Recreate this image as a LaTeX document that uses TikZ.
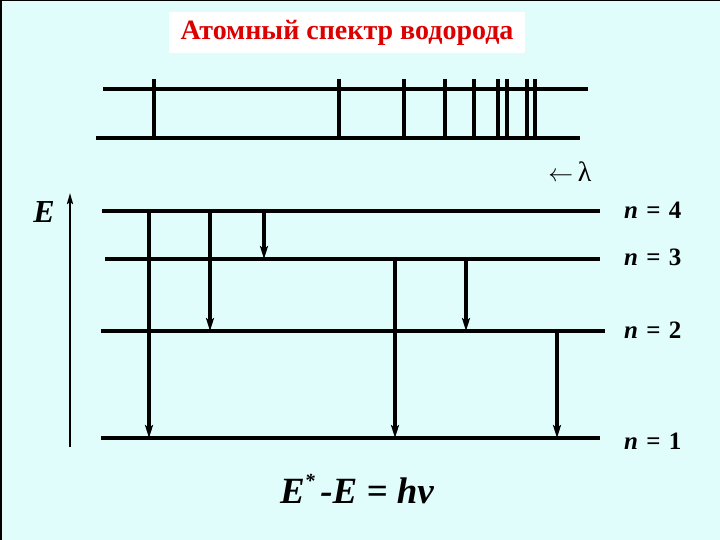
\documentclass[tikz,border=0pt]{standalone}
\usepackage{fontspec}
\setmainfont{Liberation Serif}
\usetikzlibrary{arrows.meta}
\definecolor{bgcyan}{RGB}{224,252,251}
\definecolor{titlered}{RGB}{220,0,0}
\tikzset{
  lvl/.style={line width=3.2pt},
  spec/.style={line width=3.3pt},
  trans/.style={line width=3.2pt,-{Stealth[length=13pt,width=8pt,inset=3pt]}},
  nlab/.style={font=\fontsize{25}{25}\selectfont\bfseries, anchor=west, inner sep=0pt},
}
\newcommand{\nlevel}[1]{\textit{n}\hspace{0.33em}=\hspace{0.33em}#1}
\begin{document}
\begin{tikzpicture}[x=1pt,y=-1pt]
\fill[bgcyan] (0,0) rectangle (720,540);
\useasboundingbox (0,0) rectangle (720,540);
\draw[line width=2pt] (0,0) -- (720,0);
\draw[line width=3pt] (0,0) -- (0,540);
% title
\node[fill=white, minimum width=356, minimum height=41, inner sep=0pt,
      text=titlered, font=\fontsize{28}{28}\selectfont\bfseries] (title) at (347,33) {Атомный спектр водорода};
% spectrum
\coordinate (s1a) at (103,89); \coordinate (s1b) at (588,89);
\coordinate (s2a) at (96,138); \coordinate (s2b) at (580,138);
\draw[spec] (s1a) -- (s1b);
\draw[spec] (s2a) -- (s2b);
\foreach \x in {154,339,404,445,474,498,507,527,535}{
  \draw[spec] (\x,79) -- (\x,138);
}
\node[inner sep=0pt, font=\fontsize{28}{28}\selectfont] (lam) at (570,172) {{\fontsize{23}{23}\selectfont$\leftarrow$}\,λ};
% energy axis
\coordinate (ea) at (70,447); \coordinate (eb) at (70,193);
\draw[line width=2.3pt,-{Stealth[length=11pt,width=6pt,inset=2pt]}] (ea) -- (eb);
\node[font=\fontsize{32}{32}\selectfont\bfseries\itshape, inner sep=0pt] (E) at (44,212) {E};
% levels
\coordinate (l4a) at (102,211); \coordinate (l4b) at (600,211);
\coordinate (l3a) at (105,259); \coordinate (l3b) at (600,259);
\coordinate (l2a) at (101,331); \coordinate (l2b) at (605,331);
\coordinate (l1a) at (101,438); \coordinate (l1b) at (600,438);
\draw[lvl] (l4a) -- (l4b);
\draw[lvl] (l3a) -- (l3b);
\draw[lvl] (l2a) -- (l2b);
\draw[lvl] (l1a) -- (l1b);
\node[nlab] (n4) at (624,210) {\nlevel{4}};
\node[nlab] (n3) at (624,257) {\nlevel{3}};
\node[nlab] (n2) at (624,330) {\nlevel{2}};
\node[nlab] (n1) at (624,441) {\nlevel{1}};
% transitions
\foreach \x/\ya/\yb in {149/211/438, 210/211/331, 264/211/259, 395/259/438, 466/259/331, 557/331/438}{
  \coordinate (ta) at (\x,\ya); \coordinate (tb) at (\x,\yb);
  \draw[trans] (ta) -- (tb);
}
% equation
\node[font=\fontsize{37}{37}\selectfont\bfseries\itshape, inner sep=0pt] (eq) at (357,489) {E\raisebox{0.45em}{\fontsize{20}{20}\selectfont *}\hspace{0.15em}-E = hν};
\end{tikzpicture}
\end{document}
